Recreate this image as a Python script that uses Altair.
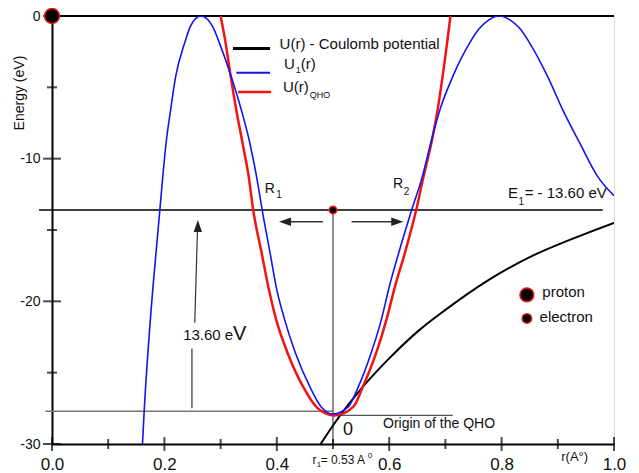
import altair as alt
import pandas as pd

# ---------------- data ----------------
# U1(r) (blue)
u1_r = [0.161, 0.164, 0.175, 0.191, 0.197, 0.203, 0.211, 0.220, 0.236, 0.246, 0.254,
        0.265, 0.277, 0.286, 0.298, 0.319, 0.337, 0.352, 0.364, 0.374,
        0.388, 0.399, 0.414, 0.433, 0.459, 0.479, 0.500, 0.527, 0.545, 0.568, 0.586,
        0.600, 0.617, 0.640, 0.659, 0.674, 0.690, 0.713, 0.743, 0.760, 0.778,
        0.796, 0.814, 0.833, 0.850, 0.882, 0.909, 0.939, 0.971, 1.000]
u1_e = [-30.0, -27.7, -21.3, -14.0, -11.3, -8.9, -6.6, -4.25, -1.9, -0.75, -0.25,
        0.0, -0.25, -0.75, -1.9, -4.25, -6.6, -8.9, -11.26, -13.6,
        -16.6, -19.0, -21.3, -23.6, -26.0, -27.4, -27.9, -27.4, -26.0, -23.6, -21.3,
        -19.0, -16.6, -13.6, -11.26, -8.9, -6.6, -4.25, -1.9, -0.9, -0.25,
        0.0, -0.25, -0.9, -1.9, -4.25, -6.6, -8.9, -11.26, -12.6]
# U(r)_QHO (red)
qho_r = [0.300, 0.309, 0.318, 0.328, 0.339, 0.350, 0.358, 0.373, 0.385, 0.399, 0.419,
         0.447, 0.473, 0.503, 0.536, 0.553, 0.577, 0.595, 0.610, 0.628, 0.648, 0.661,
         0.675, 0.686, 0.695, 0.703, 0.709]
qho_e = [0.0, -1.9, -4.25, -6.6, -8.9, -11.26, -13.6, -16.6, -19.0, -21.3, -23.6,
         -26.0, -27.5, -28.0, -27.4, -26.0, -23.6, -21.3, -19.0, -16.6, -13.6, -11.26,
         -8.9, -6.6, -4.25, -1.9, 0.0]
# Coulomb potential (black)
coul_r = [0.478, 0.500, 0.553, 0.600, 0.654, 0.700, 0.773, 0.850, 0.927, 1.000]
coul_e = [-30.0, -28.7, -26.0, -24.0, -22.0, -20.6, -18.6, -16.9, -15.6, -14.5]

E1 = -13.6
r_center = 0.5
e_origin_left = -27.7
e_origin_right = -28.0

x_major = [0.0, 0.2, 0.4, 0.6, 0.8, 1.0]
x_minor = [0.1, 0.3, 0.5, 0.7, 0.9]
y_major = [0, -10, -20, -30]
y_minor = [-5, -15, -25]

FONT = "Liberation Sans"
BLUE = "#1414f0"
RED = "#f01414"

xs = alt.Scale(domain=[0, 1], nice=False, zero=False)
ys = alt.Scale(domain=[-30, 0], nice=False, zero=False)
xaxis = alt.Axis(values=x_major, labelExpr="format(datum.value, '.1f')", title=None,
                 grid=False, ticks=False, tickSize=0, domainColor="black", domainWidth=2,
                 labelFontSize=17, labelFont=FONT, labelColor="#111", labelPadding=12,
                 labelFlush=False, labelOverlap=False)
yaxis = alt.Axis(values=y_major, labelExpr="'' + datum.value", title=None,
                 grid=False, ticks=False, tickSize=0, domainColor="black", domainWidth=2,
                 labelFontSize=14, labelFont=FONT, labelColor="#111", labelPadding=12,
                 labelOverlap=False)


def X(f="r"):
    return alt.X(f"{f}:Q", scale=xs, axis=xaxis)


def Y(f="e"):
    return alt.Y(f"{f}:Q", scale=ys, axis=yaxis)


def curve(rs, es, color, width):
    df = pd.DataFrame({"r": rs, "e": es})
    return alt.Chart(df).mark_line(color=color, strokeWidth=width, interpolate="monotone",
                                   clip=True).encode(x=X(), y=Y())


def seg(rows, color, width):
    df = pd.DataFrame(rows, columns=["r", "e", "r2", "e2"])
    return alt.Chart(df).mark_rule(color=color, strokeWidth=width).encode(
        x=X(), y=Y(), x2="r2:Q", y2="e2:Q")


# ---------------- reference lines ----------------
lines = alt.layer(
    seg([[0.0, 0.0, 1.0, 0.0]], "black", 2),
    seg([[-0.023, E1, 0.98, E1]], "black", 1.5),
    seg([[-0.012, e_origin_left, r_center, e_origin_left]], "#777", 1.5),
    seg([[r_center, e_origin_right, 0.713, e_origin_right]], "#555", 1.2),
    seg([[r_center, E1, r_center, -30.0]], "#444", 1.2),
    seg([[0.482, -14.42, 0.41, -14.42], [0.533, -14.42, 0.619, -14.42]], "#333", 1.3),
    seg([[0.254, -21.5, 0.259, -14.8], [0.249, -23.3, 0.249, -27.5]], "#333", 1.2),
    # legend swatches
    seg([[0.322, -2.28, 0.388, -2.28]], "black", 3),
    seg([[0.328, -3.97, 0.388, -3.97]], BLUE, 2),
    seg([[0.331, -5.33, 0.390, -5.33]], RED, 2.5),
)

# arrow heads
ARROW = "M 0 0 L 1 -0.35 L 1 0.35 Z"
heads = alt.Chart(pd.DataFrame({
    "r": [0.404, 0.625, 0.2595], "e": [-14.42, -14.42, -14.3], "a": [0, 180, 90]
})).mark_point(shape=ARROW, filled=True, color="#222", size=576, opacity=1).encode(
    x=X(), y=Y(), angle=alt.Angle("a:Q", scale=None))

# axis ticks drawn crossing the axis lines
xt_major = alt.Chart(pd.DataFrame({"r": x_major, "e": [-30] * len(x_major)})).mark_tick(
    orient="vertical", size=14, thickness=2, color="black").encode(x=X(), y=Y())
xt_minor = alt.Chart(pd.DataFrame({"r": x_minor, "e": [-30] * len(x_minor)})).mark_tick(
    orient="vertical", size=10, thickness=2, color="black").encode(x=X(), y=Y())
yt_major = alt.Chart(pd.DataFrame({"r": [0] * len(y_major), "e": y_major})).mark_tick(
    orient="horizontal", size=18, thickness=2, color="black").encode(x=X(), y=Y())
yt_minor = alt.Chart(pd.DataFrame({"r": [0] * len(y_minor), "e": y_minor})).mark_tick(
    orient="horizontal", size=10, thickness=2, color="black").encode(x=X(), y=Y())

# particles
dots = alt.Chart(pd.DataFrame({
    "r": [0.0, 0.5, 0.845, 0.845], "e": [0.0, E1, -19.55, -21.2], "s": [225, 55, 190, 90]
})).mark_point(filled=True, color="black", stroke=RED, strokeWidth=1.5, opacity=1,
               strokeOpacity=1).encode(x=X(), y=Y(), size=alt.Size("s:Q", scale=None))

# ---------------- texts ----------------
texts = pd.DataFrame([
    ["U(r) - Coulomb potential", 0.405, -2.33, 15],
    ["U", 0.413, -3.74, 15], ["1", 0.4338, -3.99, 9], ["(r)", 0.4427, -3.74, 15],
    ["U(r)", 0.411, -5.30, 15], ["QHO", 0.4587, -5.77, 9],
    ["R", 0.3787, -12.4, 14], ["1", 0.3990, -12.75, 10],
    ["R", 0.6068, -12.07, 14], ["2", 0.6260, -12.54, 10],
    ["E", 0.8112, -12.78, 15], ["1", 0.8302, -13.24, 10], ["= - 13.60 eV", 0.8410, -12.78, 15],
    ["13.60 e", 0.2334, -22.74, 15], ["V", 0.3222, -22.74, 20],
    ["proton", 0.8724, -19.67, 15], ["electron", 0.8676, -21.42, 15],
    ["0", 0.5179, -29.36, 18], ["Origin of the QHO", 0.589, -28.89, 14],
    ["r", 0.4635, -31.39, 12], ["1", 0.4711, -31.6, 8], ["= 0.53 A", 0.4782, -31.39, 12],
    ["0", 0.5618, -30.97, 8], ["r(A°)", 0.9061, -31.18, 13],
], columns=["t", "r", "e", "fs"])
text_layer = alt.Chart(texts).mark_text(align="left", baseline="alphabetic", font=FONT,
                                        color="#111").encode(
    x=X(), y=Y(), text="t:N", size=alt.Size("fs:Q", scale=None))

ytitle = alt.Chart(pd.DataFrame({"t": ["Energy (eV)"], "r": [-0.0569], "e": [-5.40]})).mark_text(
    angle=270, align="center", baseline="middle", font=FONT, fontSize=14, color="#111").encode(
    x=X(), y=Y(), text="t:N")

chart = alt.layer(
    lines,
    curve(coul_r, coul_e, "black", 2),
    curve(qho_r, qho_e, RED, 2.5),
    curve(u1_r, u1_e, BLUE, 1.6),
    heads, xt_major, xt_minor, yt_major, yt_minor, dots, text_layer, ytitle,
).properties(
    width=562, height=428, autosize="none",
    padding={"left": 44, "top": 8, "right": 17, "bottom": 29},
).configure_view(stroke="#999", strokeWidth=1).configure(background="white")

chart.save("out.html", embed_options={"renderer": "svg", "actions": False})
